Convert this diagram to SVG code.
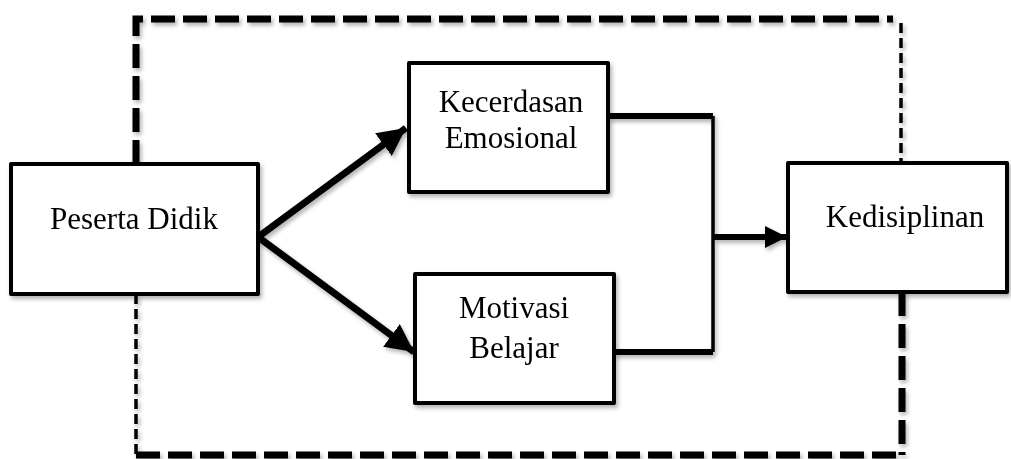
<svg xmlns="http://www.w3.org/2000/svg" width="1011" height="459" viewBox="0 0 1011 459">
<style>
.box{fill:#fff;stroke:#000;stroke-width:4;stroke-linejoin:round}
.t{font-family:"Liberation Serif","Times New Roman",serif;font-size:31px;fill:#000;text-anchor:middle}
.thick{fill:none;stroke:#000;stroke-width:7;stroke-dasharray:24 8}
.thin{fill:none;stroke:#000;stroke-width:3.5;stroke-dasharray:10 5}
.line{fill:none;stroke:#000;stroke-linejoin:round}
</style>
<defs>
<filter id="sh" x="-10%" y="-10%" width="130%" height="130%">
<feDropShadow dx="2" dy="3" stdDeviation="2" flood-color="#000" flood-opacity="0.3"/>
</filter>
<marker id="ah" markerUnits="userSpaceOnUse" markerWidth="30" markerHeight="28" refX="28" refY="14" orient="auto">
<path d="M0,0 L28,14 L0,28 Z" fill="#000"/>
</marker>
<marker id="ah2" markerUnits="userSpaceOnUse" markerWidth="24" markerHeight="24" refX="22" refY="12" orient="auto">
<path d="M0,1 L22,12 L0,23 Z" fill="#000"/>
</marker>
</defs>
<g id="connectors" filter="url(#sh)">
<path class="thick" d="M136,164 V19 H893"/>
<path class="thin" d="M901,23 V163"/>
<path class="thin" d="M136,294 V455"/>
<path class="thick" d="M136,455 H902"/>
<path class="thick" d="M902,292 V455"/>
<path class="line" stroke-width="7" d="M258,237 L406,128" marker-end="url(#ah)"/>
<path class="line" stroke-width="7" d="M258,237 L414,352" marker-end="url(#ah)"/>
<path class="line" stroke-width="6" d="M608,116 H713"/>
<path class="line" stroke-width="6" d="M614,352 H713"/>
<path class="line" stroke-width="3.5" d="M713,116 V352"/>
<path class="line" stroke-width="6" d="M713,237 H787" marker-end="url(#ah2)"/>
</g>
<g id="node-peserta" filter="url(#sh)">
<rect class="box" x="11" y="164" width="247" height="130"/>
<text class="t" x="134" y="229">Peserta Didik</text>
</g>
<g id="node-kecerdasan" filter="url(#sh)">
<rect class="box" x="409" y="63" width="199" height="129"/>
<text class="t" x="511" y="112">Kecerdasan</text>
<text class="t" x="511" y="148">Emosional</text>
</g>
<g id="node-motivasi" filter="url(#sh)">
<rect class="box" x="415" y="274" width="199" height="129"/>
<text class="t" x="514" y="318">Motivasi</text>
<text class="t" x="514" y="358">Belajar</text>
</g>
<g id="node-kedisiplinan" filter="url(#sh)">
<rect class="box" x="788" y="163" width="219" height="129"/>
<text class="t" x="905" y="227">Kedisiplinan</text>
</g>
</svg>
